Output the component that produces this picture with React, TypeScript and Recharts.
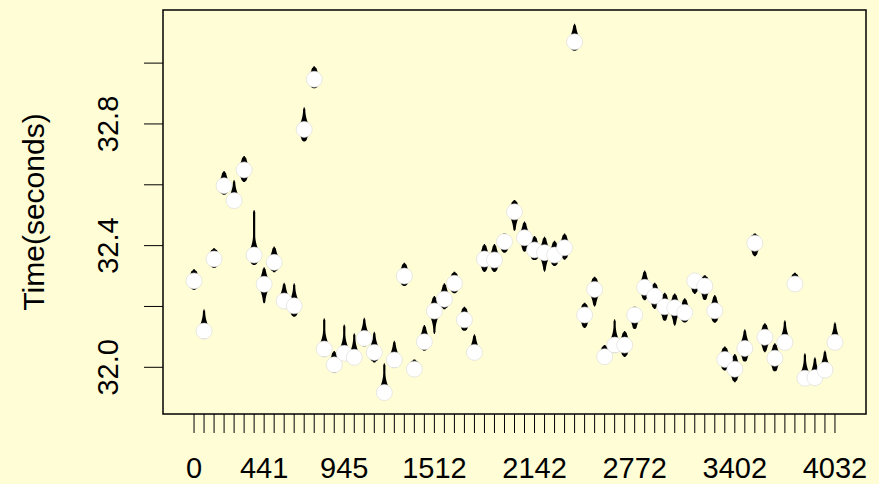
import React from 'react';
import { ComposedChart, Bar, Scatter, XAxis, YAxis, ReferenceArea } from 'recharts';

const BG = '#FFFDD6';
const FONT = '"Liberation Sans", Arial, Helvetica, sans-serif';

// x categories (seconds offset of each run)
const categories = [
  0, 63, 126, 189, 252, 315, 378, 441, 504, 567, 630, 693, 756, 819, 882, 945,
  1008, 1071, 1134, 1197, 1260, 1323, 1386, 1449, 1512, 1575, 1638, 1701, 1764, 1827, 1890, 1953,
  2016, 2079, 2142, 2205, 2268, 2331, 2394, 2457, 2520, 2583, 2646, 2709, 2772, 2835, 2898, 2961,
  3024, 3087, 3150, 3213, 3276, 3339, 3402, 3465, 3528, 3591, 3654, 3717, 3780, 3843, 3906, 3969,
  4032,
];
const xLabels = ['0', '441', '945', '1512', '2142', '2772', '3402', '4032'];

// bean centre (mean) plus the top/bottom of each density shape
const means = [
  32.284, 32.119, 32.356, 32.597, 32.548, 32.649, 32.369, 32.273, 32.345, 32.218, 32.202, 32.782, 32.947,
  32.06, 32.008, 32.046, 32.033, 32.095, 32.049, 31.917, 32.024, 32.3, 31.994, 32.084, 32.185, 32.224,
  32.276, 32.156, 32.049, 32.356, 32.353, 32.413, 32.511, 32.426, 32.386, 32.377, 32.369, 32.393, 33.07,
  32.172, 32.256, 32.035, 32.073, 32.073, 32.172, 32.263, 32.234, 32.199, 32.196, 32.18, 32.284, 32.267,
  32.186, 32.026, 31.994, 32.062, 32.408, 32.099, 32.03, 32.082, 32.274, 31.964, 31.966, 31.991, 32.082,
];
const highs = [
  32.322, 32.191, 32.391, 32.645, 32.616, 32.695, 32.517, 32.329, 32.397, 32.278, 32.276, 32.855, 32.99,
  32.161, 32.054, 32.141, 32.112, 32.163, 32.117, 32.013, 32.087, 32.344, 32.026, 32.139, 32.234, 32.276,
  32.314, 32.199, 32.109, 32.405, 32.405, 32.44, 32.55, 32.479, 32.432, 32.429, 32.416, 32.44, 33.129,
  32.212, 32.298, 32.073, 32.158, 32.119, 32.199, 32.318, 32.278, 32.245, 32.243, 32.227, 32.3, 32.303,
  32.238, 32.068, 32.044, 32.125, 32.44, 32.145, 32.079, 32.155, 32.311, 32.046, 32.033, 32.055, 32.148,
];
const lows = [
  32.254, 32.092, 32.325, 32.566, 32.53, 32.608, 32.334, 32.208, 32.312, 32.2, 32.164, 32.74, 32.915,
  32.033, 31.98, 32.025, 32.008, 32.068, 32.016, 31.9, 31.997, 32.265, 31.975, 32.054, 32.109, 32.191,
  32.241, 32.117, 32.024, 32.312, 32.312, 32.375, 32.446, 32.378, 32.35, 32.314, 32.331, 32.353, 33.038,
  32.128, 32.199, 32.015, 32.046, 32.033, 32.123, 32.219, 32.191, 32.15, 32.136, 32.145, 32.241, 32.218,
  32.145, 31.988, 31.951, 32.016, 32.364, 32.049, 31.984, 32.062, 32.255, 31.945, 31.945, 31.972, 32.062,
];
const yTicks = [32.0, 32.2, 32.4, 32.6, 32.8, 33.0];
const yLabelled = ['32.0', '32.4', '32.8'];

const data = categories.map((c, i) => ({
  idx: i,
  cat: c,
  mean: means[i],
  range: [lows[i], highs[i]],
}));

const X_DOMAIN: [number, number] = [-3.1, 67.1];
const Y_DOMAIN: [number, number] = [31.8465, 33.1746];

// half width of the bean at distance d (px) from its centre
function halfWidth(d: number, len: number) {
  const thin = 1.1, wide = 7, flare = 20;
  const k = Math.max(0, 1 - d / flare);
  let hw = thin + (wide - thin) * k * k;
  const tip = len - d;
  if (tip < 2) hw *= Math.max(0.35, tip / 2);
  return hw;
}

function BeanShape(props: any) {
  const { x, y, width, height, payload } = props;
  if (height == null || isNaN(height)) return null;
  const cx = x + width / 2;
  const [lo, hi] = payload.range;
  const my = y + (height * (hi - payload.mean)) / (hi - lo);
  const up = my - y;
  const down = y + height - my;
  const left: string[] = [];
  const right: string[] = [];
  for (let d = up; d >= 0; d -= 1) {
    const hw = halfWidth(d, up);
    left.push(`${cx - hw},${my - d}`);
    right.unshift(`${cx + hw},${my - d}`);
  }
  for (let d = 1; d <= down; d += 1) {
    const hw = halfWidth(d, down);
    left.push(`${cx - hw},${my + d}`);
    right.unshift(`${cx + hw},${my + d}`);
  }
  return <polygon points={[...left, ...right].join(' ')} fill="#000" />;
}

function Dot(props: any) {
  const { cx, cy } = props;
  return <circle cx={cx} cy={cy} r={8} fill="#fff" stroke="#d9d9d9" strokeWidth={0.6} />;
}

function XTick(props: any) {
  const { x, y, payload } = props;
  const label = String(categories[payload.value]);
  if (!xLabels.includes(label)) return null;
  return (
    <text x={x} y={y + 43} textAnchor="middle" fontSize={29} fontFamily={FONT} fill="#000">
      {label}
    </text>
  );
}

function YTick(props: any) {
  const { x, y, payload } = props;
  const label = payload.value.toFixed(1);
  if (!yLabelled.includes(label)) return null;
  const tx = x - 24;
  return (
    <text x={tx} y={y} textAnchor="middle" fontSize={29} fontFamily={FONT} fill="#000"
      transform={`rotate(-90, ${tx}, ${y})`}>
      {label}
    </text>
  );
}

function YTitle(props: any) {
  const { viewBox } = props;
  const tx = viewBox.x + 43.5;
  const ty = viewBox.y + viewBox.height / 2;
  return (
    <text x={tx} y={ty} textAnchor="middle" fontSize={30} fontFamily={FONT} fill="#000"
      transform={`rotate(-90, ${tx}, ${ty})`}>
      Time(seconds)
    </text>
  );
}

export default function App() {
  return (
    <div style={{ position: 'absolute', left: 0, top: 0, width: 879, height: 484, background: BG }}>
      <ComposedChart width={879} height={484} data={data}
        margin={{ top: 10, right: 13, bottom: 0, left: 0 }}>
        <XAxis dataKey="idx" type="number" domain={X_DOMAIN} allowDataOverflow
          ticks={categories.map((_, i) => i)} interval={0} height={70}
          tickSize={19} axisLine={false} tickLine={{ stroke: '#000', strokeWidth: 1 }} tick={<XTick />} />
        <YAxis type="number" domain={Y_DOMAIN} allowDataOverflow ticks={yTicks} interval={0}
          width={163} tickSize={19} axisLine={false} tickLine={{ stroke: '#000', strokeWidth: 1 }}
          tick={<YTick />} label={{ content: <YTitle /> }} />
        <ReferenceArea x1={X_DOMAIN[0]} x2={X_DOMAIN[1]} y1={Y_DOMAIN[0]} y2={Y_DOMAIN[1]}
          fill="none" stroke="#000" strokeWidth={1.5} fillOpacity={0} ifOverflow="visible" />
        <Bar dataKey="range" barSize={10} shape={<BeanShape />} isAnimationActive={false} />
        <Scatter dataKey="mean" shape={<Dot />} isAnimationActive={false} />
      </ComposedChart>
    </div>
  );
}
